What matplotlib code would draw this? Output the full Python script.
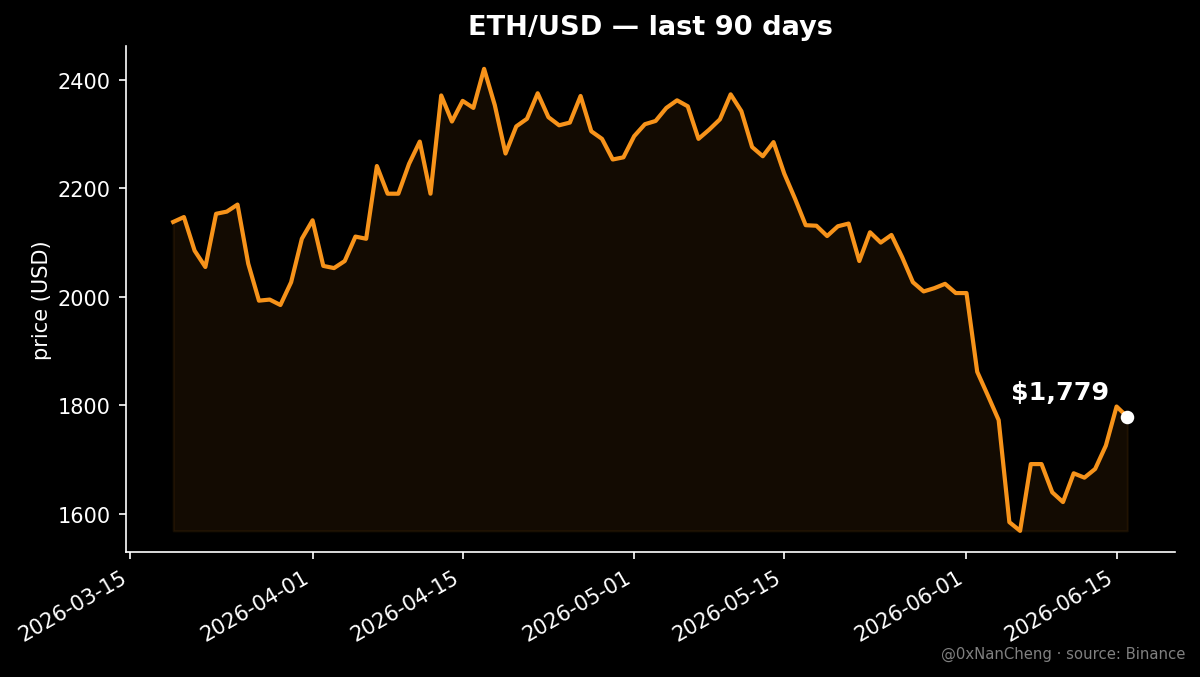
import matplotlib
matplotlib.use("Agg")
import matplotlib.pyplot as plt
import matplotlib.dates as mdates
import pandas as pd

start_date = "2026-03-19"
prices = [2138, 2147, 2085, 2055, 2153, 2157, 2170, 2061, 1993, 1995,
          1985, 2027, 2107, 2141, 2057, 2053, 2066, 2111, 2107, 2241,
          2190, 2190, 2245, 2286, 2190, 2371, 2323, 2361, 2348, 2420,
          2353, 2264, 2314, 2328, 2375, 2331, 2316, 2321, 2370, 2305,
          2291, 2253, 2257, 2296, 2318, 2324, 2348, 2362, 2351, 2291,
          2308, 2327, 2373, 2342, 2276, 2259, 2285, 2227, 2181, 2132,
          2131, 2112, 2130, 2135, 2066, 2119, 2100, 2114, 2073, 2027,
          2010, 2016, 2024, 2007, 2007, 1862, 1818, 1773, 1585, 1569,
          1692, 1692, 1640, 1622, 1675, 1667, 1683, 1726, 1798, 1779]
tick_dates = ["2026-03-15", "2026-04-01", "2026-04-15", "2026-05-01",
              "2026-05-15", "2026-06-01", "2026-06-15"]
title = "ETH/USD — last 90 days"
ylabel = "price (USD)"
last_label = "$1,779"
credit = "@0xNanCheng · source: Binance"

dates = pd.date_range(start_date, periods=len(prices), freq="D")
ORANGE = "#f7931a"

fig = plt.figure(figsize=(8, 4.52), dpi=150, facecolor="black")
ax = fig.add_axes([125.5 / 1200, 1 - 553.3 / 678, (1175 - 125.5) / 1200, (553.3 - 46.7) / 678], facecolor="black")
ax.plot(dates, prices, color=ORANGE, lw=2)
ax.fill_between(dates, prices, min(prices), color=ORANGE, alpha=0.08)
ax.scatter([dates[-1]], [prices[-1]], color="white", s=30, zorder=5)
ax.annotate(last_label, (dates[-1], prices[-1]), xytext=(-8.5, 6), textcoords="offset points",
            ha="right", va="bottom", color="white", fontsize=12.2, fontweight="bold")

ax.set_ylim(1529.5, 2462.6)
ax.set_xticks(pd.to_datetime(tick_dates))
ax.xaxis.set_major_formatter(mdates.DateFormatter("%Y-%m-%d"))
ax.set_yticks([1600, 1800, 2000, 2200, 2400])
ax.tick_params(colors="white", labelsize=10)
for lab in ax.get_xticklabels():
    lab.set_rotation(30)
    lab.set_ha("right")
for side in ("top", "right"):
    ax.spines[side].set_visible(False)
for side in ("left", "bottom"):
    ax.spines[side].set_color("white")
ax.set_ylabel(ylabel, color="white", fontsize=10, labelpad=3)
ax.set_title(title, color="white", fontsize=13.1, fontweight="bold", pad=5.5)
fig.text(1185 / 1200, 1 - 654 / 678, credit, color="#808080", fontsize=7.15, ha="right", va="center")
fig.savefig("out.png", facecolor="black")
